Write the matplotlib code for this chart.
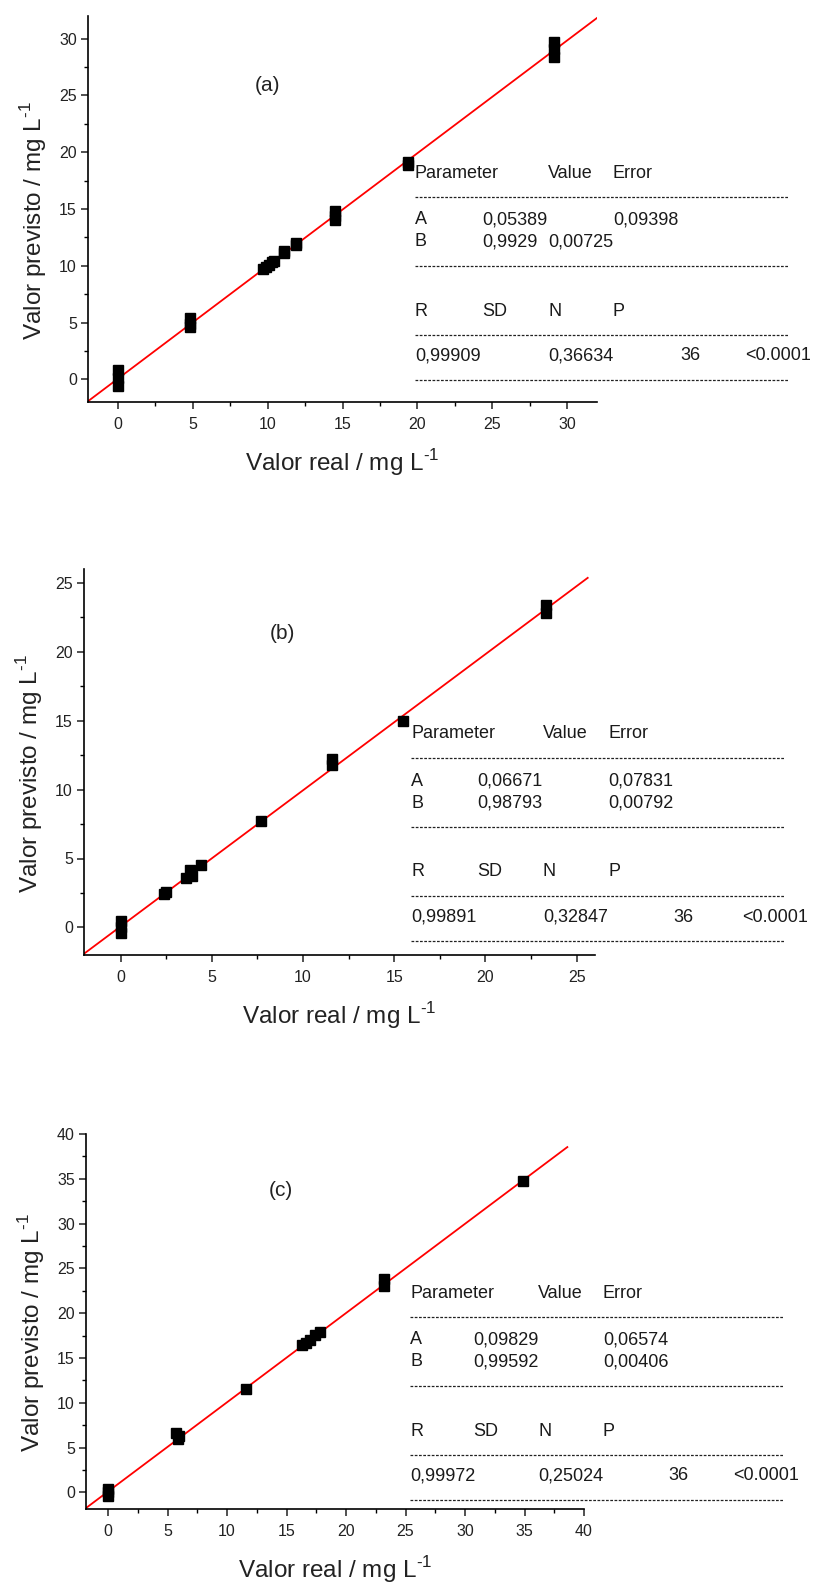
import numpy as np
import matplotlib
matplotlib.use('Agg')
import matplotlib.pyplot as plt
from matplotlib.lines import Line2D

plt.rcParams['font.family'] = ['Liberation Sans', 'DejaVu Sans']

W, H = 814, 1585

# panel (a)
xa = [0, 0, 0, 4.8, 4.8, 4.8, 9.7, 9.9, 10.1, 10.3, 10.45, 11.1, 11.1, 11.9, 11.9,
      14.5, 14.5, 14.5, 19.4, 19.4, 29.1, 29.1, 29.1]
ya = [0.8, 0.1, -0.55, 5.4, 4.9, 4.6, 9.7, 9.9, 10.1, 10.3, 10.4, 11.1, 11.3, 11.8, 12.0,
      14.8, 14.4, 14.0, 19.1, 18.9, 29.7, 29.1, 28.4]
fit_a = (0.05389, 0.9929)

# panel (b)
xb = [0, 0, 0, 2.4, 2.5, 3.6, 3.8, 3.9, 4.4, 7.7, 11.6, 11.6, 15.5, 23.3, 23.3]
yb = [0.5, 0.0, -0.4, 2.4, 2.6, 3.6, 4.2, 3.7, 4.5, 7.7, 12.2, 11.8, 15.0, 23.4, 22.8]
fit_b = (0.06671, 0.98793)

# panel (c)
xc = [0, 0, 0, 5.7, 5.9, 6.0, 11.6, 16.3, 16.6, 17.0, 17.4, 17.8, 23.2, 23.2, 34.9]
yc = [0.4, 0.0, -0.4, 6.6, 6.0, 6.3, 11.5, 16.4, 16.7, 17.0, 17.6, 17.9, 23.8, 23.0, 34.8]
fit_c = (0.09829, 0.99592)

# fit tables
tab_a = {'A': ('0,05389', '0,09398'), 'B': ('0,9929', '0,00725'),
         'stats': ('0,99909', '0,36634', '36', '<0.0001')}
tab_b = {'A': ('0,06671', '0,07831'), 'B': ('0,98793', '0,00792'),
         'stats': ('0,99891', '0,32847', '36', '<0.0001')}
tab_c = {'A': ('0,09829', '0,06574'), 'B': ('0,99592', '0,00406'),
         'stats': ('0,99972', '0,25024', '36', '<0.0001')}

xlab = 'Valor real / mg L$^{\\mathregular{\u20101}}$'
ylab = 'Valor previsto / mg L$^{\\mathregular{\u20101}}$'

fig = plt.figure(figsize=(W / 100, H / 100), dpi=100)


def px_ax(l, r, t, b):
    return fig.add_axes([l / W, 1 - b / H, (r - l) / W, (b - t) / H])


def fig_text(x, y, s, **kw):
    fig.text(x / W, 1 - y / H, s, va='center', ha='left', fontsize=13, color='#1a1a1a', **kw)


def dash_line(x0, x1, y):
    fig.add_artist(Line2D([x0 / W, x1 / W], [1 - y / H, 1 - y / H], transform=fig.transFigure,
                          color='#222222', lw=0.9, linestyle=(0, (2.2, 1.2))))


def panel(box, x, y, fit, lims, step, xend, label, labpos):
    ax = px_ax(*box)
    a, b = fit
    xl = np.array([lims[0], xend])
    ax.plot(xl, a + b * xl, color='red', lw=1.3, zorder=2)
    ax.plot(x, y, 's', color='black', ms=7, zorder=3)
    ax.set_xlim(lims)
    ax.set_ylim(lims)
    ax.set_xticks(np.arange(0, lims[1] + 0.1, step))
    ax.set_yticks(np.arange(0, lims[1] + 0.1, step))
    ax.set_xticks(np.arange(step / 2, lims[1], step), minor=True)
    ax.set_yticks(np.arange(step / 2, lims[1], step), minor=True)
    for s in ['top', 'right']:
        ax.spines[s].set_visible(False)
    for s in ['left', 'bottom']:
        ax.spines[s].set_linewidth(1.2)
    ax.tick_params(which='major', direction='out', length=5, width=1.1, labelsize=11.5,
                   colors='#222222')
    ax.tick_params(which='minor', direction='out', length=3, width=1.0)
    ax.tick_params(axis='x', pad=6)
    ax.tick_params(axis='y', pad=3)
    ax.set_xlabel(xlab, fontsize=17.5, color='#222222', va='center')
    ax.set_ylabel(ylab, fontsize=17.5, color='#222222', va='center')
    hgt = box[3] - box[2]
    wid = box[1] - box[0]
    ax.xaxis.set_label_coords(0.5, -61 / hgt)
    ax.yaxis.set_label_coords(-54 / wid, 0.47)
    ax.text(labpos[0], labpos[1], label, fontsize=15, color='#222222', ha='center', va='center')
    return ax


def table(x0, y0, cols, tab, berr_col):
    c = [x0 + d for d in cols]
    rows = [0, 24, 47, 69, 93, 138, 162, 183, 207]
    fig_text(c[0], y0 + rows[0], 'Parameter')
    fig_text(c[2], y0 + rows[0], 'Value')
    fig_text(c[3], y0 + rows[0], 'Error')
    fig_text(c[0], y0 + rows[2], 'A')
    fig_text(c[1], y0 + rows[2], tab['A'][0])
    fig_text(c[3], y0 + rows[2], tab['A'][1])
    fig_text(c[0], y0 + rows[3], 'B')
    fig_text(c[1], y0 + rows[3], tab['B'][0])
    fig_text(c[berr_col], y0 + rows[3], tab['B'][1])
    fig_text(c[0], y0 + rows[5], 'R')
    fig_text(c[1], y0 + rows[5], 'SD')
    fig_text(c[2], y0 + rows[5], 'N')
    fig_text(c[3], y0 + rows[5], 'P')
    st = tab['stats']
    fig_text(c[0], y0 + rows[7], st[0])
    fig_text(c[2], y0 + rows[7], st[1])
    fig_text(c[4], y0 + rows[7], st[2])
    fig_text(c[5], y0 + rows[7], st[3])
    for r in [1, 4, 6, 8]:
        dash_line(c[0], c[0] + 373, y0 + rows[r])


panel((88, 597, 16, 402), xa, ya, fit_a, (-2, 32), 5, 32, '(a)', (10, 25.9))
panel((84, 595, 569, 955), xb, yb, fit_b, (-2, 26), 5, 25.6, '(b)', (8.9, 21.3))
panel((86, 584, 1134, 1509), xc, yc, fit_c, (-1.85, 40), 5, 38.6, '(c)', (14.5, 33.7))

table(415, 173, [0, 67, 133, 198, 265, 330], tab_a, 2)
table(411, 734, [0, 66, 132, 197, 262, 331], tab_b, 3)
table(410, 1293, [0, 63, 128, 193, 258, 323], tab_c, 3)

fig.savefig('out.png', dpi=100, facecolor='white')
